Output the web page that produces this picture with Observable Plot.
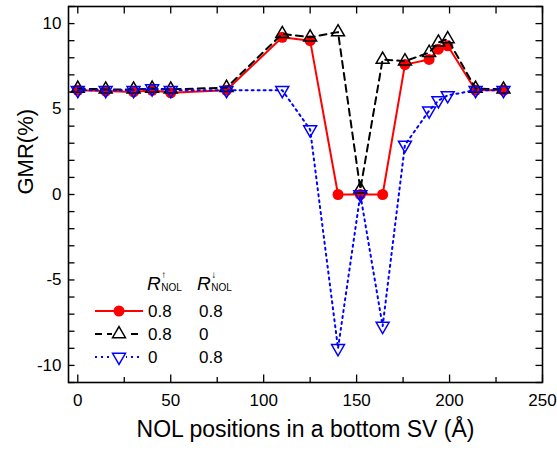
<!DOCTYPE html>
<html><head><meta charset="utf-8">
<script src="https://cdn.jsdelivr.net/npm/d3@7"></script>
<script src="https://cdn.jsdelivr.net/npm/@observablehq/plot@0.6"></script>
<style>
html,body{margin:0;padding:0;background:#fff;}
#chart svg{display:block;}
</style></head><body><div id="chart"></div>
<script>
// NOL position (Å)
const positions   = [0, 15, 30, 40, 50, 80, 110, 125, 140, 152, 164, 176, 189, 194, 199, 214, 229];
// GMR (%) for R↑NOL / R↓NOL = 0.8 / 0.8
const gmrBoth     = [6.1, 6.05, 6.0, 6.1, 5.95, 6.1, 9.2, 9.0, 0, 0, 0, 7.6, 7.9, 8.5, 8.7, 6.1, 6.1];
// 0.8 / 0
const gmrUpOnly   = [6.2, 6.15, 6.15, 6.2, 6.15, 6.25, 9.4, 9.2, 9.5, 0.3, 7.9, 7.8, 8.3, 8.9, 9.1, 6.2, 6.15];
// 0 / 0.8
const gmrDownOnly = [6.1, 6.1, 6.1, 6.2, 6.1, 6.1, 6.1, 3.8, -9.0, 0, -7.7, 2.9, 4.9, 5.5, 5.8, 6.1, 6.1];

const xTicks = [0, 50, 100, 150, 200, 250];
const xMinor = [25, 75, 125, 175, 225];
const yTicks = [-10, -5, 0, 5, 10];
const yMinor = [-11, -9, -8, -7, -6, -4, -3, -2, -1, 1, 2, 3, 4, 6, 7, 8, 9, 11];
const legendUp   = ["0.8", "0.8", "0"];
const legendDown = ["0.8", "0", "0.8"];
const xTitle = "NOL positions in a bottom SV (Å)";
const yTitle = "GMR(%)";

const W = 557, H = 451;
const mL = 68, mR = 15, mT = 6, mB = 69;
const fW = W - mL - mR, fH = H - mT - mB;
const font = "'Liberation Sans', Arial, Helvetica, sans-serif";
const RED = "#ff0000", BLUE = "#0000ff", BLACK = "#000000";

const rows = vals => positions.map((x, i) => ({x, y: vals[i]}));
const red = rows(gmrBoth), blk = rows(gmrUpOnly), blu = rows(gmrDownOnly);

const plot = Plot.plot({
  width: W, height: H,
  marginLeft: mL, marginRight: mR, marginTop: mT, marginBottom: mB,
  x: {domain: [-5, 250]},
  y: {domain: [-11, 11]},
  style: {fontFamily: font, fontSize: "17px", color: "#000", background: "#fff"},
  marks: [
    Plot.line(red, {x: "x", y: "y", stroke: RED, strokeWidth: 2}),
    Plot.dot(red, {x: "x", y: "y", r: 5.5, fill: RED, stroke: "none"}),
    Plot.line(blk, {x: "x", y: "y", stroke: BLACK, strokeWidth: 2, strokeDasharray: "7,5"}),
    Plot.dot(blk, {x: "x", y: "y", symbol: "triangle", r: 4.8, stroke: BLACK, strokeWidth: 1.5, fill: "none"}),
    Plot.line(blu, {x: "x", y: "y", stroke: BLUE, strokeWidth: 2, strokeDasharray: "2,4"}),
    Plot.dot(blu, {x: "x", y: "y", symbol: "triangle", rotate: 180, r: 4.8, stroke: BLUE, strokeWidth: 1.5, fill: "none"}),
    // inward ticks
    Plot.tickX(xTicks, {x: d => d, insetTop: fH - 7.5, stroke: "#000", strokeWidth: 1.3}),
    Plot.tickX(xMinor, {x: d => d, insetTop: fH - 5, stroke: "#000", strokeWidth: 1.3}),
    Plot.tickX(xTicks.concat(xMinor), {x: d => d, insetBottom: fH - 7.5, stroke: "#000", strokeWidth: 1.3}),
    Plot.tickY(yTicks.concat(yMinor), {y: d => d, insetRight: fW - 6.5, stroke: "#000", strokeWidth: 1.3}),
    Plot.tickY(yTicks.concat(yMinor), {y: d => d, insetLeft: fW - 6.5, stroke: "#000", strokeWidth: 1.3}),
    Plot.frame({stroke: "#000", strokeWidth: 1.6}),
    Plot.axisX(xTicks, {anchor: "bottom", tickSize: 0, tickPadding: 11, label: null, fontSize: 17, tickFormat: d => String(d)}),
    Plot.axisY(yTicks, {anchor: "left", tickSize: 0, tickPadding: 7, label: null, fontSize: 17, tickFormat: d => String(d)}),
    Plot.text([xTitle], {text: d => d, frameAnchor: "bottom", dy: 54, fontSize: 23}),
    Plot.text([yTitle], {text: d => d, frameAnchor: "left", dx: -43, rotate: -90, fontSize: 22})
  ]
});

// Legend (inside the frame, lower left)
const svg = d3.select(plot);
const lg = svg.append("g").attr("font-family", font).attr("fill", "#000").attr("text-anchor", "start");
function header(x, arrow) {
  const t = lg.append("text").attr("x", x).attr("y", 290).attr("font-size", 19);
  t.append("tspan").attr("font-style", "italic").text("R");
  t.append("tspan").attr("font-size", 10).attr("dx", 0.5).attr("dy", -12).text(arrow);
  t.append("tspan").attr("font-size", 10).attr("dx", -5).attr("dy", 13).text("NOL");
}
header(147, "↑");
header(197, "↓");
const styles = [
  {stroke: RED, dash: null, sym: "circle"},
  {stroke: BLACK, dash: "7,5", sym: "up"},
  {stroke: BLUE, dash: "2,4", sym: "down"}
];
const rowY = [311, 334, 357];
styles.forEach((s, i) => {
  const y = rowY[i];
  lg.append("line").attr("x1", 95).attr("x2", 143).attr("y1", y).attr("y2", y)
    .attr("stroke", s.stroke).attr("stroke-width", 2).attr("stroke-dasharray", s.dash);
  if (s.sym === "circle") {
    lg.append("circle").attr("cx", 119).attr("cy", y).attr("r", 5.5).attr("fill", s.stroke);
  } else {
    const path = d3.symbol(d3.symbolTriangle, Math.PI * 4.8 * 4.8)();
    lg.append("rect").attr("x", 112).attr("y", y - 7).attr("width", 14).attr("height", 14).attr("fill", "#fff");
    lg.append("path").attr("d", path)
      .attr("transform", `translate(119,${y})` + (s.sym === "down" ? " rotate(180)" : ""))
      .attr("fill", "none").attr("stroke", s.stroke).attr("stroke-width", 1.5);
  }
  lg.append("text").attr("x", 148).attr("y", y + 6).attr("font-size", 17).text(legendUp[i]);
  lg.append("text").attr("x", 199).attr("y", y + 6).attr("font-size", 17).text(legendDown[i]);
});

document.getElementById("chart").appendChild(plot);
</script>
</body></html>
